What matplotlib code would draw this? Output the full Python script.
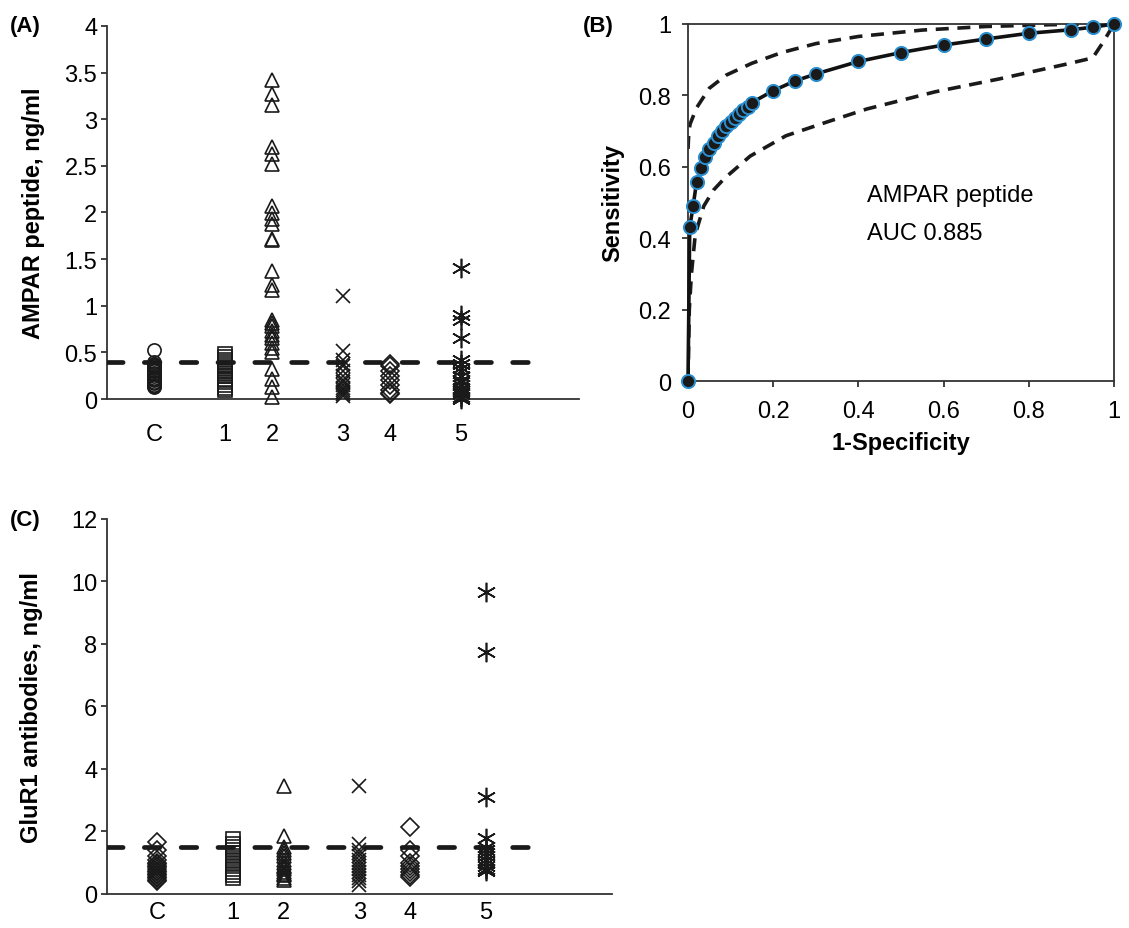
import matplotlib
matplotlib.use("Agg")
import matplotlib.pyplot as plt
from matplotlib.ticker import FormatStrFormatter

plt.rcParams['font.family'] = ['Liberation Sans', 'DejaVu Sans']

# group positions / labels (A and C share these)
group_x = [1, 2.5, 3.5, 5, 6, 7.5]
group_labels = ['C', '1', '2', '3', '4', '5']

# (A) AMPAR peptide, ng/ml
a_ctrl = [0.53, 0.40, 0.38, 0.36, 0.35, 0.33, 0.31, 0.30, 0.28, 0.27, 0.25,
          0.23, 0.22, 0.20, 0.18, 0.17, 0.15, 0.14, 0.13]
a_g1 = [0.48, 0.45, 0.42, 0.40, 0.38, 0.35, 0.32, 0.30, 0.28, 0.25, 0.22,
        0.20, 0.18, 0.15, 0.12, 0.10]
a_g2 = [3.42, 3.27, 3.15, 2.70, 2.63, 2.52, 2.07, 1.99, 1.93, 1.88, 1.72,
        1.70, 1.37, 1.22, 1.17, 0.85, 0.82, 0.78, 0.73, 0.69, 0.65, 0.60,
        0.55, 0.50, 0.32, 0.22, 0.13, 0.02]
a_g3 = [1.10, 0.52, 0.42, 0.38, 0.35, 0.30, 0.25, 0.20, 0.18, 0.15, 0.12,
        0.10, 0.07, 0.05, 0.03]
a_g4 = [0.38, 0.35, 0.30, 0.25, 0.20, 0.15, 0.10, 0.06, 0.05]
a_g5 = [1.40, 0.90, 0.85, 0.65, 0.42, 0.38, 0.33, 0.30, 0.25, 0.20, 0.18,
        0.15, 0.12, 0.10, 0.07, 0.05, 0.02, 0.0]
a_cutoff = 0.4

# (C) GluR1 antibodies, ng/ml
c_ctrl = [1.65, 1.40, 1.20, 1.10, 1.00, 0.95, 0.90, 0.85, 0.80, 0.75, 0.70,
          0.65, 0.60, 0.55, 0.50, 0.45, 0.40]
c_g1 = [1.75, 1.60, 1.50, 1.40, 1.30, 1.20, 1.10, 1.00, 0.90, 0.80, 0.70,
        0.60, 0.50]
c_g2 = [3.45, 1.85, 1.50, 1.40, 1.30, 1.20, 1.10, 1.00, 0.90, 0.85, 0.80,
        0.70, 0.65, 0.60, 0.50, 0.45]
c_g3 = [3.45, 1.60, 1.40, 1.30, 1.20, 1.10, 1.00, 0.90, 0.80, 0.70, 0.60,
        0.50, 0.40, 0.30]
c_g4 = [2.15, 1.40, 1.20, 1.00, 0.90, 0.80, 0.70, 0.60, 0.55]
c_g5 = [9.65, 7.75, 3.10, 1.80, 1.50, 1.40, 1.30, 1.20, 1.10, 1.00, 0.90,
        0.80, 0.75]
c_cutoff = 1.5

# (B) ROC curve
roc_fpr = [0, 0.004, 0.012, 0.02, 0.03, 0.04, 0.05, 0.06, 0.07, 0.08, 0.09,
           0.10, 0.11, 0.12, 0.13, 0.14, 0.15, 0.2, 0.25, 0.3, 0.4, 0.5,
           0.6, 0.7, 0.8, 0.9, 0.95, 1.0]
roc_tpr = [0, 0.43, 0.49, 0.557, 0.598, 0.627, 0.65, 0.668, 0.685, 0.70,
           0.713, 0.725, 0.737, 0.748, 0.758, 0.768, 0.78, 0.813, 0.84,
           0.86, 0.895, 0.92, 0.941, 0.958, 0.974, 0.984, 0.991, 1.0]
upper_fpr = [0, 0.002, 0.005, 0.02, 0.05, 0.09, 0.15, 0.22, 0.3, 0.4, 0.55,
             0.7, 0.85, 1.0]
upper_tpr = [0.65, 0.70, 0.72, 0.765, 0.82, 0.857, 0.89, 0.92, 0.945, 0.965,
             0.983, 0.993, 0.998, 1.0]
lower_fpr = [0, 0.003, 0.008, 0.017, 0.037, 0.06, 0.085, 0.146, 0.23, 0.33,
             0.42, 0.58, 0.73, 0.89, 0.95, 0.975, 1.0]
lower_tpr = [0, 0.2, 0.3, 0.41, 0.49, 0.535, 0.567, 0.63, 0.687, 0.727,
             0.762, 0.81, 0.846, 0.888, 0.905, 0.95, 1.0]

FS = 17
ASTER = (6, 2, 0)


def scatter_panel(ax, groups, markers, cutoff, cut_end, ymax, ystep, xpad):
    for xv, vals, m in zip(group_x, groups, markers):
        ms = 14 if m == ASTER else 9.5
        ax.plot([xv] * len(vals), vals, linestyle='none', marker=m,
                markersize=ms, markerfacecolor='none', markeredgecolor='#1a1a1a',
                markeredgewidth=1.2, clip_on=False, zorder=3)
    ax.plot([0, cut_end], [cutoff, cutoff], color='#1a1a1a', linewidth=3.4,
            dashes=(3.3, 4.5), dash_capstyle='round', zorder=4)
    ax.set_xlim(0, 10)
    ax.set_ylim(0, ymax)
    ax.set_yticks([i * ystep for i in range(int(round(ymax / ystep)) + 1)])
    ax.yaxis.set_major_formatter(FormatStrFormatter('%g'))
    ax.set_xticks(group_x)
    ax.set_xticklabels(group_labels)
    ax.spines['top'].set_visible(False)
    ax.spines['right'].set_visible(False)
    for s in ('left', 'bottom'):
        ax.spines[s].set_linewidth(1.3)
        ax.spines[s].set_color('#333333')
    ax.tick_params(axis='y', direction='out', length=4, width=1.3,
                   labelsize=FS, pad=3, color='#333333')
    ax.tick_params(axis='x', length=0, labelsize=FS, pad=xpad)


fig = plt.figure(figsize=(11.29, 9.29), dpi=100)

# (A)
axA = fig.add_axes([0.0948, 0.5694, 0.4182, 0.4016])
scatter_panel(axA, [a_ctrl, a_g1, a_g2, a_g3, a_g4, a_g5],
              ['o', 's', '^', 'x', 'D', ASTER], a_cutoff, 9, 4, 0.5, 17)
axA.set_ylabel('AMPAR peptide, ng/ml', fontsize=FS, fontweight='bold', labelpad=14)
fig.text(0.009, 0.972, '(A)', fontsize=16, fontweight='bold', va='center')

# (C)
axC = fig.add_axes([0.0948, 0.0366, 0.447, 0.4037])
scatter_panel(axC, [c_ctrl, c_g1, c_g2, c_g3, c_g4, c_g5],
              ['D', 's', '^', 'x', 'D', ASTER], c_cutoff, 8.5, 12, 2, 5)
axC.set_ylabel('GluR1 antibodies, ng/ml', fontsize=FS, fontweight='bold', labelpad=20)
fig.text(0.009, 0.44, '(C)', fontsize=16, fontweight='bold', va='center')

# (B)
axB = fig.add_axes([0.6094, 0.5888, 0.3773, 0.3843])
axB.plot(upper_fpr, upper_tpr, color='#1a1a1a', linewidth=2.6, dashes=(3.6, 2.4),
         zorder=2)
axB.plot(lower_fpr, lower_tpr, color='#1a1a1a', linewidth=2.6, dashes=(3.6, 2.4),
         zorder=2)
axB.plot(roc_fpr, roc_tpr, color='#111111', linewidth=2.6, marker='o',
         markersize=9.5, markerfacecolor='#1a1a1a', markeredgecolor='#2a8fd0',
         markeredgewidth=1.4, clip_on=False, zorder=3)
axB.set_xlim(0, 1)
axB.set_ylim(0, 1)
ticks = [0, 0.2, 0.4, 0.6, 0.8, 1]
axB.set_xticks(ticks)
axB.set_yticks(ticks)
axB.xaxis.set_major_formatter(FormatStrFormatter('%g'))
axB.yaxis.set_major_formatter(FormatStrFormatter('%g'))
for s in axB.spines.values():
    s.set_linewidth(1.3)
    s.set_color('#333333')
axB.tick_params(direction='out', length=4, width=1.3, labelsize=FS,
                color='#333333')
axB.tick_params(axis='y', pad=8)
axB.tick_params(axis='x', pad=10)
axB.set_xlabel('1-Specificity', fontsize=FS, fontweight='bold', labelpad=6)
axB.set_ylabel('Sensitivity', fontsize=FS, fontweight='bold', labelpad=10)
axB.text(0.42, 0.52, 'AMPAR peptide', fontsize=FS, va='center', ha='left')
axB.text(0.42, 0.415, 'AUC 0.885', fontsize=FS, va='center', ha='left')
fig.text(0.516, 0.972, '(B)', fontsize=16, fontweight='bold', va='center')

fig.savefig('out.png', dpi=100)
